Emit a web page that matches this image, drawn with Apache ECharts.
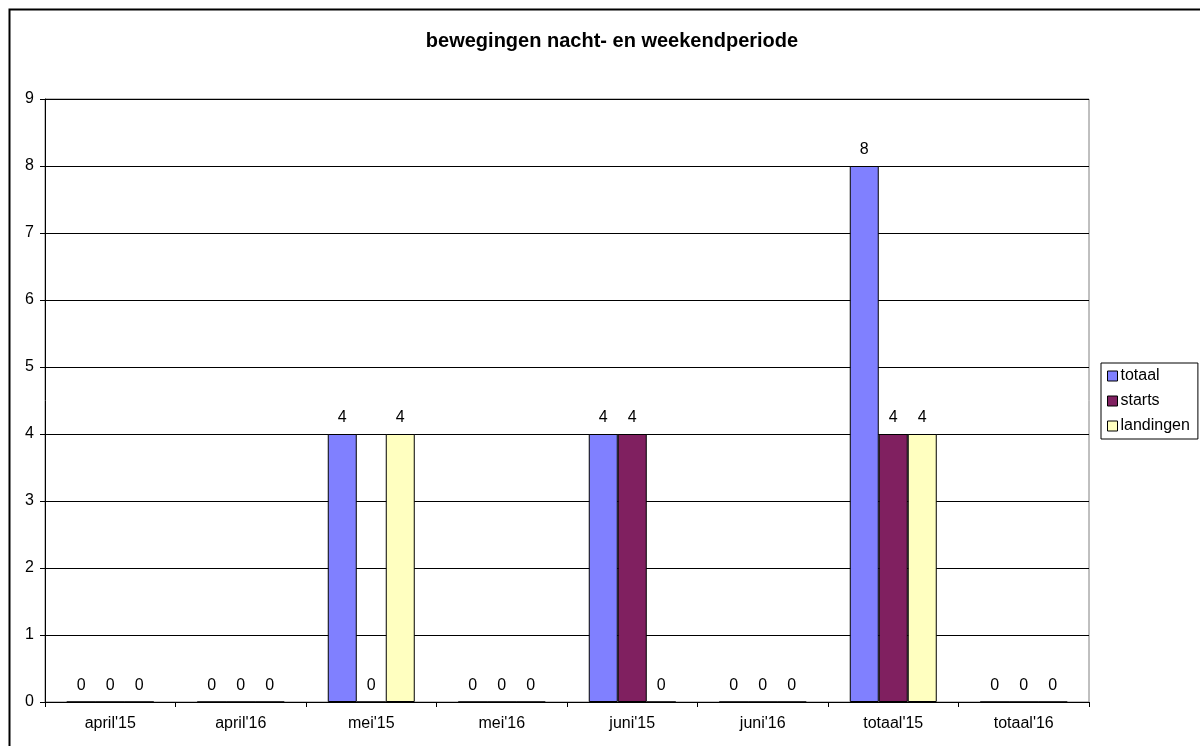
<!DOCTYPE html>
<html>
<head>
<meta charset="utf-8">
<script src="https://cdn.jsdelivr.net/npm/echarts@6/dist/echarts.min.js"></script>
<style>
  html, body { margin: 0; padding: 0; background: #fff; }
  #main { width: 1200px; height: 746px; }
</style>
</head>
<body>
<div id="main"></div>
<script>
// categorieen en waarden
var categories = ["april'15", "april'16", "mei'15", "mei'16", "juni'15", "juni'16", "totaal'15", "totaal'16"];
var totaal = [0, 0, 4, 0, 4, 0, 8, 0];
var starts = [0, 0, 0, 0, 4, 0, 4, 0];
var landingen = [0, 0, 4, 0, 0, 0, 4, 0];

var myChart = echarts.init(document.getElementById('main'));
var font = 'Liberation Sans, Arial, sans-serif';

function mkSeries(name, data, color) {
    return {
        name: name,
        type: 'bar',
        data: data,
        barWidth: 29,
        barGap: '0%',
        itemStyle: { color: color, borderColor: '#000', borderWidth: 1 },
        label: {
            show: true,
            position: 'top',
            distance: 8,
            color: '#000',
            fontFamily: font,
            fontSize: 16
        }
    };
}

var option = {
    animation: false,
    backgroundColor: '#fff',
    textStyle: { fontFamily: font },
    title: {
        text: 'bewegingen nacht- en weekendperiode',
        left: 607,
        top: 26,
        textAlign: 'center',
        textStyle: { fontFamily: font, fontSize: 20, fontWeight: 'bold', color: '#000' }
    },
    legend: {
        orient: 'vertical',
        left: 1101,
        top: 363,
        width: 98,
        itemWidth: 10,
        itemHeight: 10,
        itemGap: 9,
        padding: [5, 8, 5, 6],
        borderColor: '#000',
        borderWidth: 1,
        backgroundColor: '#fff',
        icon: 'rect',
        textStyle: { fontFamily: font, fontSize: 16, lineHeight: 16, color: '#000', padding: [0, 0, 0, -2] },
        itemStyle: { borderColor: '#000', borderWidth: 1 },
        data: ['totaal', 'starts', 'landingen']
    },
    grid: {
        left: 45,
        top: 99,
        width: 1044,
        height: 603,
        show: true,
        borderColor: '#808080',
        borderWidth: 1,
        containLabel: false
    },
    xAxis: {
        type: 'category',
        data: categories,
        axisLine: { lineStyle: { color: '#000', width: 1 } },
        axisTick: { show: true, length: 5, lineStyle: { color: '#000' } },
        axisLabel: { color: '#000', fontSize: 16, fontFamily: font, margin: 14 }
    },
    yAxis: {
        type: 'value',
        min: 0,
        max: 9,
        interval: 1,
        axisLine: { show: true, lineStyle: { color: '#000', width: 1 } },
        axisTick: { show: true, length: 5, lineStyle: { color: '#000' } },
        axisLabel: { color: '#000', fontSize: 16, fontFamily: font, margin: 11 },
        splitLine: { show: true, lineStyle: { color: '#000', width: 1 } }
    },
    graphic: [{
        type: 'rect',
        left: 7,
        top: 7,
        shape: { width: 1210, height: 760 },
        style: { fill: null, stroke: '#000', lineWidth: 2 },
        silent: true,
        z: -10
    }],
    series: [
        mkSeries('totaal', totaal, '#8080FF'),
        mkSeries('starts', starts, '#802060'),
        mkSeries('landingen', landingen, '#FFFFC0')
    ]
};

myChart.setOption(option);
</script>
</body>
</html>
